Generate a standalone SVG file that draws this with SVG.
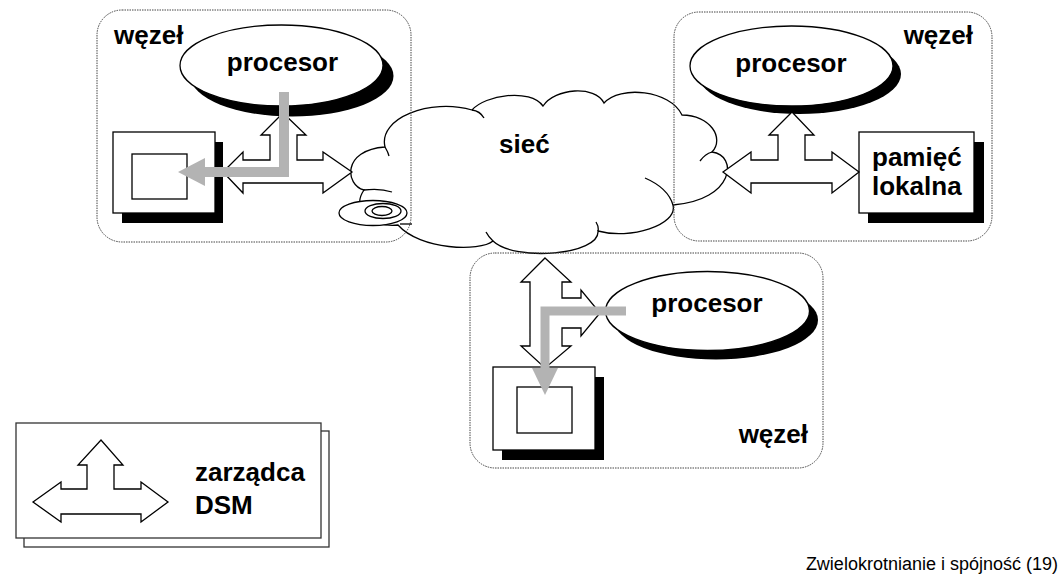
<svg xmlns="http://www.w3.org/2000/svg" width="1062" height="580" viewBox="0 0 1062 580">
  <style>
    .lbl { font-family: "Liberation Sans", Arial, sans-serif; font-size: 26px; font-weight: bold; fill: #000; }
    .foot { font-family: "Liberation Sans", Arial, sans-serif; font-size: 18px; fill: #000; }
    .box { fill: none; stroke: #444; stroke-width: 1; stroke-dasharray: 1.5 1; }
    .line { fill: #fff; stroke: #000; stroke-width: 1.3; stroke-linejoin: miter; }
    .thin { fill: none; stroke: #000; stroke-width: 1.3; }
    .shadow { fill: #000; }
    .flow { fill: none; stroke: #b3b3b3; stroke-linejoin: miter; }
    .flowhead { fill: #b3b3b3; }
  </style>

  <!-- network cloud -->
  <g id="siec">
    <path class="line" d="M364,190 C345,185 342,150 385,147 C378,118 430,98 472,110 C485,95 530,88 543,106 C555,88 595,85 604,103 C620,85 670,90 682,115 C710,115 725,138 712,152 C738,155 735,200 673,205 C678,225 630,240 598,231 C600,255 515,262 493,241 C480,252 420,250 398,225 C372,228 350,210 364,190 Z"/>
    <path class="thin" d="M472,110 Q480,111 484,118 M712,152 Q705,154 700,161 M673,205 Q668,188 645,178 M598,231 Q599,227 596,222 M493,241 Q488,236 486,232 M364,190 Q380,188 392,192 M385,147 Q388,152 389,156"/>
    <text class="lbl" x="499" y="153">sieć</text>
  </g>

  <!-- left node -->
  <g id="wezel-lewy">
    <rect class="box" x="97" y="10" width="314" height="232" rx="25" ry="25"/>
    <text class="lbl" x="114" y="44">węzeł</text>
    <ellipse class="shadow" cx="292" cy="76" rx="101.5" ry="40.5"/>
    <ellipse class="line" cx="281.5" cy="65.5" rx="101.5" ry="40.5"/>
    <text class="lbl" x="282.5" y="71" text-anchor="middle">procesor</text>
    <rect class="shadow" x="122" y="142" width="101" height="81"/>
    <rect class="line" x="113" y="132" width="102" height="81"/>
    <rect class="line" x="132" y="154" width="55" height="45"/>
    <!-- local disk -->
    <ellipse class="line" cx="373" cy="213" rx="34" ry="12.5"/>
    <ellipse class="line" cx="383" cy="211" rx="18" ry="7.5"/>
    <ellipse class="line" cx="382" cy="211" rx="10" ry="4.5"/>
    <path class="thin" d="M400,224 L412,224"/>
  </g>

  <!-- right node -->
  <g id="wezel-prawy">
    <rect class="box" x="674" y="12" width="318" height="229" rx="25" ry="25"/>
    <text class="lbl" x="973" y="44" text-anchor="end">węzeł</text>
    <ellipse class="shadow" cx="799.5" cy="74" rx="101.5" ry="40"/>
    <ellipse class="line" cx="791.5" cy="66" rx="101.5" ry="40"/>
    <text class="lbl" x="791" y="72" text-anchor="middle">procesor</text>
    <rect class="shadow" x="868" y="142" width="116" height="81"/>
    <rect class="line" x="859" y="132" width="115" height="81"/>
    <text class="lbl" x="872" y="166">pamięć</text>
    <text class="lbl" x="872" y="195">lokalna</text>
  </g>

  <!-- bottom node -->
  <g id="wezel-dolny">
    <rect class="box" x="470" y="253" width="353" height="215" rx="25" ry="25"/>
    <text class="lbl" x="808" y="443" text-anchor="end">węzeł</text>
    <ellipse class="shadow" cx="716" cy="320" rx="102" ry="39.5"/>
    <ellipse class="line" cx="707.5" cy="311" rx="102" ry="39.5"/>
    <text class="lbl" x="707" y="312" text-anchor="middle">procesor</text>
    <rect class="shadow" x="502" y="377" width="102" height="83"/>
    <rect class="line" x="493" y="367" width="102" height="83"/>
    <rect class="line" x="517" y="387" width="55" height="46"/>
  </g>

  <!-- DSM manager connectors -->
  <g id="polaczenia">
    <polygon class="line" points="223,172 243,152 243,160 270,160 270,135 261,135 283,113 306,135 297,135 297,160 323,160 323,152 352,172 323,193 323,183 243,183 243,193"/>
    <polygon class="line" points="723,172 751,152 751,160 778,160 778,135 769,135 792,112 814,135 805,135 805,160 832,160 832,152 859,172 832,193 832,183 751,183 751,193"/>
    <polygon class="line" points="545,258 571,282 562,282 562,298 581,298 581,290 600,313 581,336 581,328 562,328 562,346 571,346 545,368 521,346 530,346 530,282 521,282"/>
    <!-- data paths -->
    <polyline class="flow" stroke-width="10" points="284,92 284,172 205,172"/>
    <polygon class="flowhead" points="205,158 178,172 205,186"/>
    <polyline class="flow" stroke-width="9" points="626,311 545,311 545,368"/>
    <polygon class="flowhead" points="532,368 558,368 545,395"/>
  </g>

  <!-- legend -->
  <g id="legenda">
    <rect x="24" y="431" width="305" height="116" fill="#fff" stroke="#333" stroke-width="1.3"/>
    <rect x="16" y="423" width="305" height="115" fill="#fff" stroke="#333" stroke-width="1.3"/>
    <polygon class="line" points="33,502 61,482 61,489 87,489 87,465 78,465 101,440 123,465 114,465 114,489 141,489 141,482 168,502 141,522 141,514 61,514 61,522"/>
    <text class="lbl" x="195" y="481">zarządca</text>
    <text class="lbl" x="195" y="514">DSM</text>
  </g>

  <text class="foot" x="1058" y="570" text-anchor="end">Zwielokrotnianie i spójność (19)</text>
</svg>
